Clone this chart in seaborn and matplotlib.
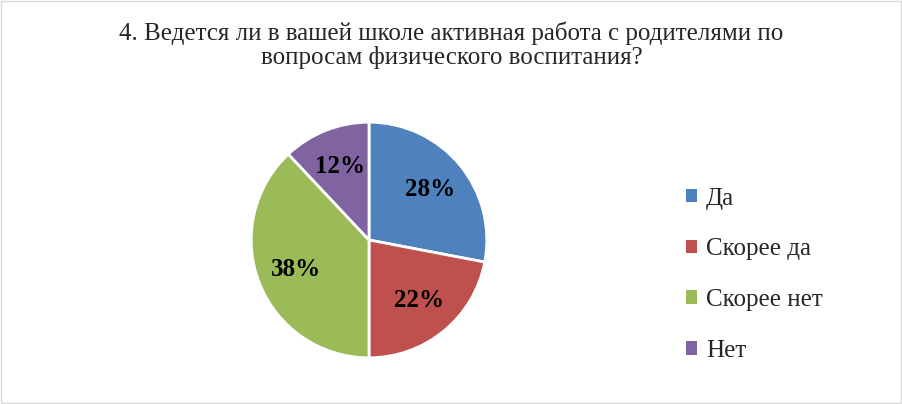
import matplotlib
matplotlib.use("Agg")
import matplotlib.pyplot as plt
import seaborn as sns
from matplotlib.patches import Patch, Rectangle

categories = ["Да", "Скорее да", "Скорее нет", "Нет"]
values = [28, 22, 38, 12]
colors = ["#4F81BD", "#C0504D", "#9BBB59", "#8064A2"]
title = "4. Ведется ли в вашей школе активная работа с родителями по\nвопросам физического воспитания?"

sns.set_theme(style="white")
plt.rcParams["font.family"] = ["Liberation Serif", "DejaVu Serif"]

fig = plt.figure(figsize=(9.03, 4.04), dpi=100)
fig.patches.append(Rectangle((0.001, 0.002), 0.997, 0.995, transform=fig.transFigure,
                             fill=False, edgecolor="#D9D9D9", linewidth=1))
ax = fig.add_axes([(369 - 119) / 903, (404 - 240 - 119) / 404, 238 / 903, 238 / 404])
wedges, texts, autotexts = ax.pie(values, colors=colors, startangle=90, counterclock=False,
       autopct=lambda p: f"{p:.0f}%", pctdistance=0.67,
       wedgeprops=dict(edgecolor="white", linewidth=2),
       textprops=dict(fontsize=18, fontweight="bold", color="black"))
ax.set_xlim(-1.01, 1.01)
ax.set_ylim(-1.01, 1.01)
ax.set_aspect("equal")

fig.text(0.5, 1 - 45 / 404, title, ha="center", va="center", fontsize=18, linespacing=1.05)

handles = [Patch(facecolor=c, edgecolor="none") for c in colors]
fig.legend(handles, categories, loc="center left", bbox_to_anchor=(0.735, 0.32),
           frameon=False, fontsize=18, handlelength=0.45, handleheight=0.45,
           handletextpad=0.35, labelspacing=1.15)
fig.savefig("out.png", dpi=100)
